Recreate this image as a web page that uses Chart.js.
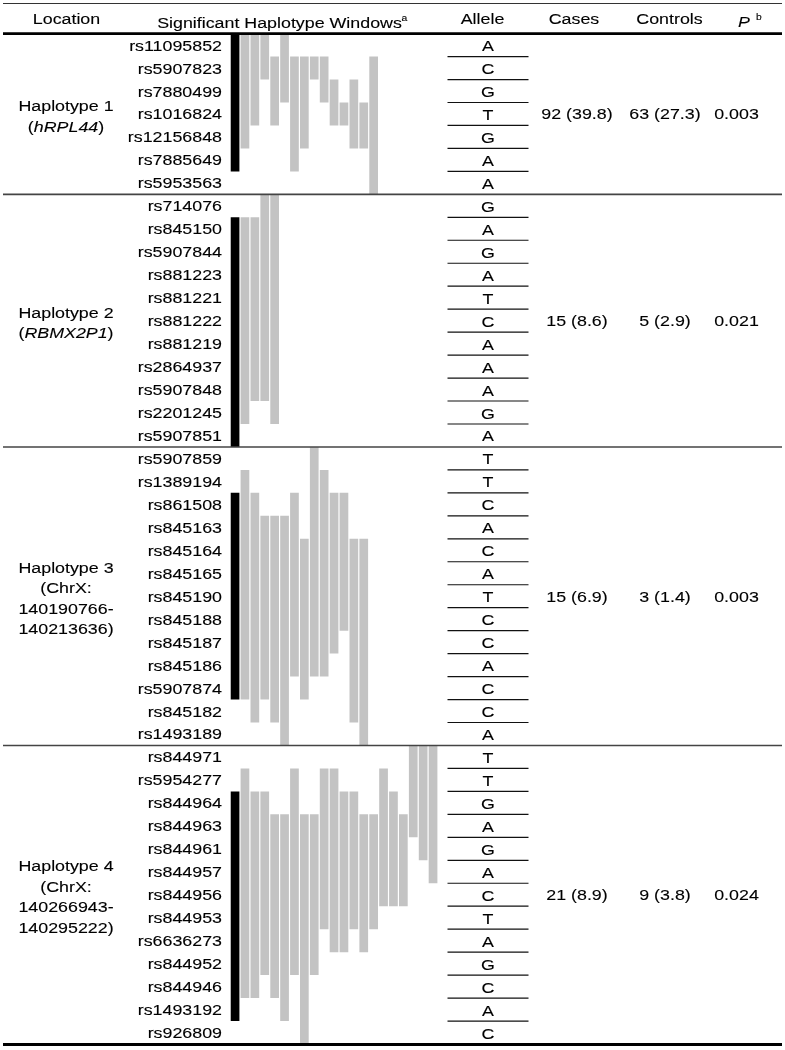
<!DOCTYPE html>
<html>
<head>
<meta charset="utf-8">
<script src="https://cdn.jsdelivr.net/npm/chart.js@4.4.0/dist/chart.umd.min.js"></script>
<style>
  html, body { margin: 0; padding: 0; background: #fff; }
  #wrap { width: 785px; height: 1050px; }
</style>
</head>
<body>
<div id="wrap"><canvas id="hapChart" width="785" height="1050"></canvas></div>
<script>
// SNPs and risk alleles per haplotype block
var hap1Snps = ['rs11095852', 'rs5907823', 'rs7880499', 'rs1016824', 'rs12156848', 'rs7885649', 'rs5953563'];
var hap1Alleles = ['A', 'C', 'G', 'T', 'G', 'A', 'A'];
var hap2Snps = ['rs714076', 'rs845150', 'rs5907844', 'rs881223', 'rs881221', 'rs881222', 'rs881219', 'rs2864937', 'rs5907848', 'rs2201245', 'rs5907851'];
var hap2Alleles = ['G', 'A', 'G', 'A', 'T', 'C', 'A', 'A', 'A', 'G', 'A'];
var hap3Snps = ['rs5907859', 'rs1389194', 'rs861508', 'rs845163', 'rs845164', 'rs845165', 'rs845190', 'rs845188', 'rs845187', 'rs845186', 'rs5907874', 'rs845182', 'rs1493189'];
var hap3Alleles = ['T', 'T', 'C', 'A', 'C', 'A', 'T', 'C', 'C', 'A', 'C', 'C', 'A'];
var hap4Snps = ['rs844971', 'rs5954277', 'rs844964', 'rs844963', 'rs844961', 'rs844957', 'rs844956', 'rs844953', 'rs6636273', 'rs844952', 'rs844946', 'rs1493192', 'rs926809'];
var hap4Alleles = ['T', 'T', 'G', 'A', 'G', 'A', 'C', 'T', 'A', 'G', 'C', 'A', 'C'];

// significant windows: [first row, last row + 1] inside the block; the first one is the black (haplotype) bar
var hap1Windows = [[0, 6], [0, 5], [0, 4], [0, 2], [1, 4], [0, 3], [1, 6], [1, 5], [1, 2], [1, 3], [2, 4], [3, 4], [2, 5], [3, 5], [1, 7]];
var hap2Windows = [[1, 11], [1, 10], [1, 9], [0, 9], [0, 10]];
var hap3Windows = [[2, 11], [1, 11], [2, 12], [3, 11], [3, 12], [3, 13], [2, 10], [4, 11], [0, 10], [1, 10], [2, 9], [2, 8], [4, 12], [4, 13]];
var hap4Windows = [[2, 12], [1, 11], [2, 11], [2, 10], [3, 11], [3, 12], [1, 10], [3, 13], [3, 10], [1, 8], [1, 9], [2, 9], [2, 8], [3, 9], [3, 8], [1, 7], [2, 7], [3, 7], [0, 4], [0, 5], [0, 6]];

// location labels (*...* = italic), counts and p values
var hapLabels = [
  ['Haplotype 1', '(*hRPL44*)'],
  ['Haplotype 2', '(*RBMX2P1*)'],
  ['Haplotype 3', '(ChrX:', '140190766-', '140213636)'],
  ['Haplotype 4', '(ChrX:', '140266943-', '140295222)']
];
var cases = ['92 (39.8)', '15 (8.6)', '15 (6.9)', '21 (8.9)'];
var controls = ['63 (27.3)', '5 (2.9)', '3 (1.4)', '9 (3.8)'];
var pValues = ['0.003', '0.021', '0.003', '0.024'];

var allSnps = [hap1Snps, hap2Snps, hap3Snps, hap4Snps];
var allAlleles = [hap1Alleles, hap2Alleles, hap3Alleles, hap4Alleles];
var allWindows = [hap1Windows, hap2Windows, hap3Windows, hap4Windows];

var offsets = [];
var totalRows = 0;
allSnps.forEach(function (s) { offsets.push(totalRows); totalRows += s.length; });

var windowSlots = [];
for (var i = 0; i < 21; i++) windowSlots.push('w' + i);

var datasets = allWindows.map(function (wins, b) {
  var off = offsets[b];
  return {
    data: windowSlots.map(function (s, i) {
      return wins[i] ? [wins[i][0] + off, wins[i][1] + off] : null;
    }),
    grouped: false,
    backgroundColor: function (c) { return c.dataIndex === 0 ? '#000000' : '#c3c3c3'; },
    borderWidth: 0,
    barPercentage: 0.88,
    categoryPercentage: 1.0
  };
});

var SX = 1.15; // the source text is a bit wider than plain Arial
function richText(ctx, str, x, y, align, size) {
  size = size || 15.5;
  var parts = str.split('*');
  var fonts = parts.map(function (p, i) {
    return (i % 2 ? 'italic ' : '') + size + 'px "Liberation Sans", Arial, sans-serif';
  });
  var widths = [], w = 0;
  parts.forEach(function (p, i) {
    ctx.font = fonts[i];
    var m = ctx.measureText(p).width;
    widths.push(m);
    w += m;
  });
  var x0 = align === 'center' ? x - w * SX / 2 : (align === 'right' ? x - w * SX : x);
  ctx.save();
  ctx.translate(x0, y);
  ctx.scale(SX, 1);
  ctx.textAlign = 'left';
  ctx.textBaseline = 'alphabetic';
  ctx.fillStyle = '#000';
  ctx.strokeStyle = '#000';
  ctx.lineWidth = 0.12;
  var cx = 0;
  parts.forEach(function (p, i) {
    ctx.font = fonts[i];
    ctx.fillText(p, cx, 0);
    ctx.strokeText(p, cx, 0);
    cx += widths[i];
  });
  ctx.restore();
}

function hLine(ctx, x1, x2, y, width, color) {
  ctx.save();
  ctx.strokeStyle = color;
  ctx.lineWidth = width;
  ctx.beginPath();
  ctx.moveTo(x1, y);
  ctx.lineTo(x2, y);
  ctx.stroke();
  ctx.restore();
}

var tablePlugin = {
  id: 'hapTable',
  afterDraw: function (chart) {
    var ctx = chart.ctx;
    var y = chart.scales.y;

    // rules
    hLine(ctx, 3, 782, 3.5, 1.2, '#333');
    hLine(ctx, 3, 782, y.getPixelForValue(0), 2.6, '#000');
    hLine(ctx, 3, 782, y.getPixelForValue(totalRows) + 0.5, 3, '#000');
    for (var b = 1; b < offsets.length; b++) {
      hLine(ctx, 3, 782, y.getPixelForValue(offsets[b]), 1.6, '#444');
    }

    // header
    richText(ctx, 'Location', 66.5, 24, 'center');
    richText(ctx, 'Significant Haplotype Windows', 279.5, 27.7, 'center');
    richText(ctx, 'a', 401.5, 20.5, 'left', 9);
    richText(ctx, 'Allele', 482.5, 24, 'center');
    richText(ctx, 'Cases', 574, 24, 'center');
    richText(ctx, 'Controls', 669.5, 24, 'center');
    richText(ctx, '*P*', 738, 26.5, 'left');
    richText(ctx, 'b', 756, 19.5, 'left', 9);

    allSnps.forEach(function (snps, b) {
      var off = offsets[b];
      snps.forEach(function (name, r) {
        var yc = y.getPixelForValue(off + r + 0.5);
        richText(ctx, name, 222, yc + 5.5, 'right');
        richText(ctx, allAlleles[b][r], 488, yc + 6, 'center');
        if (r < snps.length - 1) {
          hLine(ctx, 447.5, 528.5, y.getPixelForValue(off + r + 1), 1.2, '#111');
        }
      });
      var mid = y.getPixelForValue(off + snps.length / 2);
      var lines = hapLabels[b];
      lines.forEach(function (ln, k) {
        richText(ctx, ln, 66, mid + (k - (lines.length - 1) / 2) * 20.5 + 7.5, 'center');
      });
      richText(ctx, cases[b], 577, mid + 5.5, 'center');
      richText(ctx, controls[b], 665, mid + 5.5, 'center');
      richText(ctx, pValues[b], 736.5, mid + 5.5, 'center');
    });
  }
};

new Chart(document.getElementById('hapChart').getContext('2d'), {
  type: 'bar',
  data: { labels: windowSlots, datasets: datasets },
  options: {
    responsive: false,
    animation: false,
    devicePixelRatio: 1,
    layout: { padding: { left: 230.1, right: 347, top: 33.6, bottom: 6 } },
    scales: {
      x: { display: false },
      y: { display: false, reverse: true, min: 0, max: totalRows }
    },
    plugins: {
      legend: { display: false },
      tooltip: { enabled: false }
    }
  },
  plugins: [tablePlugin]
});
</script>
</body>
</html>
